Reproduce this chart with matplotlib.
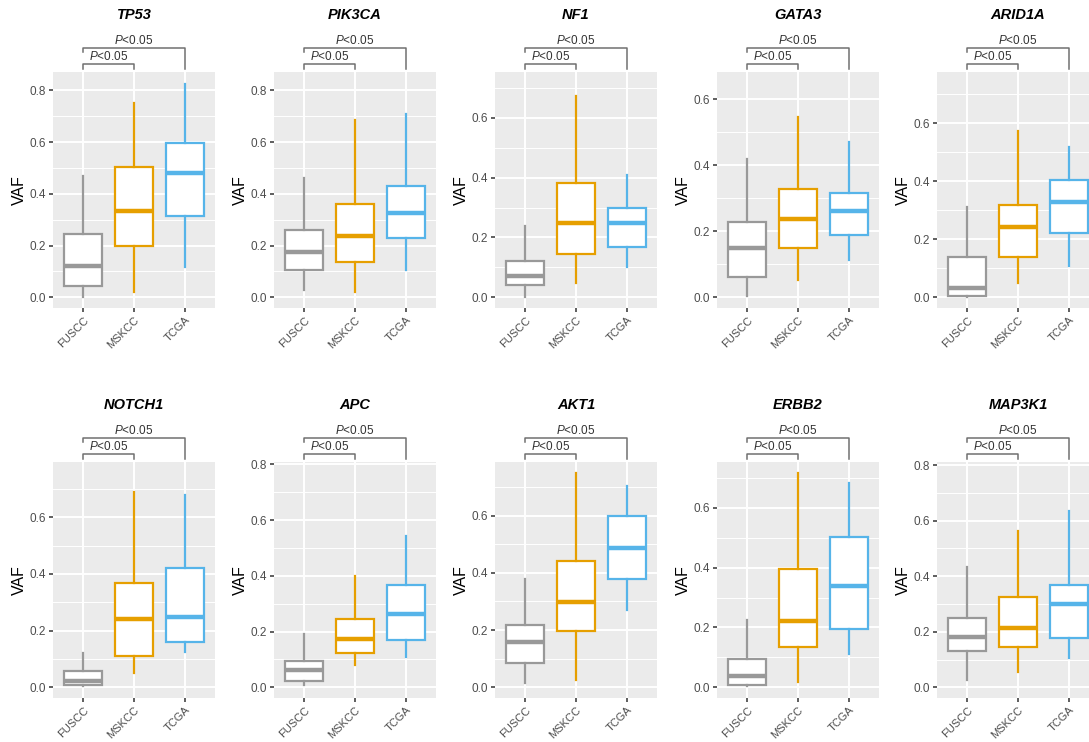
import numpy as np
import matplotlib
matplotlib.use("Agg")
import matplotlib.pyplot as plt
import matplotlib.transforms as mtransforms

plt.rcParams['font.family'] = ['Liberation Sans', 'DejaVu Sans']
plt.rcParams['mathtext.fontset'] = 'custom'
plt.rcParams['mathtext.it'] = 'Liberation Sans:italic'
plt.rcParams['mathtext.rm'] = 'Liberation Sans'

genes = ["TP53", "PIK3CA", "NF1", "GATA3", "ARID1A",
         "NOTCH1", "APC", "AKT1", "ERBB2", "MAP3K1"]
cohorts = ["FUSCC", "MSKCC", "TCGA"]
colors = ["#999999", "#E69F00", "#56B4E9"]

# [whisker low, q1, median, q3, whisker high] per gene
fuscc = [[0.00, 0.042, 0.120, 0.244, 0.470],
         [0.028, 0.104, 0.174, 0.260, 0.463],
         [0.00, 0.040, 0.072, 0.120, 0.239],
         [0.005, 0.061, 0.149, 0.228, 0.420],
         [0.00, 0.006, 0.032, 0.140, 0.310],
         [0.005, 0.008, 0.023, 0.058, 0.120],
         [0.008, 0.024, 0.063, 0.093, 0.190],
         [0.014, 0.086, 0.159, 0.216, 0.379],
         [0.005, 0.009, 0.038, 0.095, 0.225],
         [0.027, 0.131, 0.180, 0.251, 0.434]]
mskcc = [[0.020, 0.197, 0.334, 0.503, 0.750],
         [0.021, 0.135, 0.237, 0.359, 0.685],
         [0.048, 0.144, 0.249, 0.383, 0.673],
         [0.053, 0.149, 0.238, 0.328, 0.547],
         [0.048, 0.140, 0.241, 0.318, 0.575],
         [0.050, 0.111, 0.240, 0.368, 0.690],
         [0.080, 0.123, 0.175, 0.246, 0.399],
         [0.025, 0.198, 0.299, 0.443, 0.749],
         [0.017, 0.134, 0.223, 0.394, 0.716],
         [0.056, 0.145, 0.213, 0.324, 0.564]]
tcga = [[0.116, 0.316, 0.480, 0.595, 0.827],
        [0.105, 0.230, 0.327, 0.430, 0.710],
        [0.100, 0.169, 0.247, 0.298, 0.410],
        [0.112, 0.188, 0.261, 0.317, 0.469],
        [0.109, 0.220, 0.328, 0.406, 0.517],
        [0.125, 0.161, 0.249, 0.421, 0.678],
        [0.107, 0.169, 0.262, 0.368, 0.544],
        [0.270, 0.379, 0.486, 0.598, 0.703],
        [0.111, 0.195, 0.340, 0.502, 0.682],
        [0.105, 0.178, 0.300, 0.367, 0.634]]
# largest VAF in each gene (incl. hidden outliers), sets the y range
vaf_max = [0.83, 0.83, 0.717, 0.65, 0.74, 0.757, 0.77, 0.75, 0.717, 0.773]
p_label = "$P$<0.05"

W, H = 1089, 742
fig = plt.figure(figsize=(W / 100, H / 100), dpi=100)
fig.patch.set_facecolor("white")

col_left = [53, 274, 495, 717, 937]
row_top = [72, 462]
ax_w, ax_h = 162, 236

for k, gene in enumerate(genes):
    r, c = divmod(k, 5)
    ax = fig.add_axes([col_left[c] / W, 1 - (row_top[r] + ax_h) / H, ax_w / W, ax_h / H])
    ax.set_facecolor("#EBEBEB")
    for s in ax.spines.values():
        s.set_visible(False)

    M = vaf_max[k]
    ax.set_ylim(-0.05 * M, 1.05 * M)
    ax.set_xlim(0.4, 3.6)
    top = 1.05 * M
    ax.set_yticks(np.arange(0, top, 0.2))
    ax.set_yticks(np.arange(0.1, top, 0.2), minor=True)
    ax.yaxis.set_major_formatter(matplotlib.ticker.FormatStrFormatter("%.1f"))
    ax.grid(True, which="major", color="white", linewidth=1.4)
    ax.grid(True, which="minor", axis="y", color="white", linewidth=0.7)
    ax.set_axisbelow(True)
    ax.tick_params(axis="both", which="major", length=3, width=1.1, color="#333333",
                   labelcolor="#4D4D4D", labelsize=8.5, pad=2)
    ax.tick_params(axis="x", labelsize=8)
    ax.tick_params(axis="y", which="minor", length=0)
    ax.set_ylabel("VAF", fontsize=11.5, color="black", labelpad=2)
    ax.text(0.5, 1.24, gene, transform=ax.transAxes, ha="center", va="center",
            fontsize=10.5, fontweight="bold", fontstyle="italic")

    stats = []
    for name, d in zip(cohorts, [fuscc[k], mskcc[k], tcga[k]]):
        stats.append(dict(label=name, whislo=d[0], q1=d[1], med=d[2], q3=d[3], whishi=d[4]))
    bp = ax.bxp(stats, positions=[1, 2, 3], widths=0.75, showfliers=False,
                showcaps=False, patch_artist=True)
    for i, col in enumerate(colors):
        bp["boxes"][i].set(facecolor="white", edgecolor=col, linewidth=1.6)
        bp["medians"][i].set(color=col, linewidth=3.2)
        for w in bp["whiskers"][2 * i:2 * i + 2]:
            w.set(color=col, linewidth=1.6)
    ax.set_xticks([1, 2, 3])
    ax.set_xticklabels(cohorts, rotation=45, ha="right", rotation_mode="anchor")

    # significance brackets above the panel
    trans = mtransforms.blended_transform_factory(ax.transData, ax.transAxes)
    br = "#707070"
    ax.plot([1, 1, 2, 2], [1.014, 1.034, 1.034, 1.014], color=br, lw=1.1,
            transform=trans, clip_on=False)
    ax.plot([1, 1, 3, 3], [1.085, 1.102, 1.102, 1.013], color=br, lw=1.1,
            transform=trans, clip_on=False)
    ax.text(1.5, 1.038, p_label, transform=trans, ha="center",
            va="bottom", fontsize=8.5, color="#333333")
    ax.text(2.0, 1.106, p_label, transform=trans, ha="center",
            va="bottom", fontsize=8.5, color="#333333")

fig.savefig("out.png", dpi=100)
